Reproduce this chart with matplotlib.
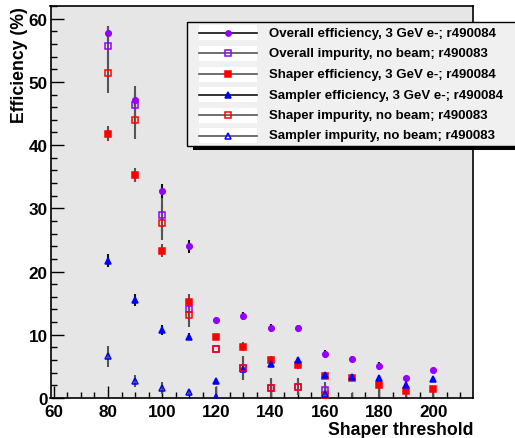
import matplotlib
matplotlib.use("Agg")
import matplotlib.pyplot as plt
from matplotlib.patches import Rectangle
from matplotlib.lines import Line2D
from matplotlib.ticker import MultipleLocator
import numpy as np

plt.rcParams["font.family"] = ["Liberation Sans", "DejaVu Sans"]
plt.rcParams["font.weight"] = "bold"

# ==========================================
# data
# ==========================================
thr = [80, 90, 100, 110, 120, 130, 140, 150, 160, 170, 180, 190, 200]
overall_eff = [57.7, 47.1, 32.8, 24.0, 12.3, 13.0, 11.1, 11.0, 7.0, 6.2, 5.1, 3.1, 4.4]
overall_eff_err = [1.2, 1.0, 1.1, 1.0, 0.5, 0.6, 0.6, 0.6, 0.6, 0.5, 0.6, 0.4, 0.4]
shaper_eff = [41.8, 35.2, 23.3, 15.2, 9.6, 8.1, 6.0, 5.2, 3.5, 3.1, 2.0, 1.1, 1.5]
shaper_eff_err = [1.2, 1.1, 1.0, 1.2, 0.4, 0.7, 0.6, 0.6, 0.5, 0.4, 0.4, 0.4, 0.4]
sampler_eff = [21.7, 15.5, 10.7, 9.7, 2.7, 4.6, 5.4, 6.0, 3.6, 3.3, 3.2, 2.0, 3.0]
sampler_eff_err = [1.0, 1.0, 0.8, 0.6, 0.4, 0.5, 0.5, 0.5, 0.5, 0.4, 0.4, 0.4, 0.4]

imp_thr = [80, 90, 100, 110, 120, 130, 140, 150, 160]
overall_imp = [55.6, 46.3, 28.9, 14.0, 7.8, 4.7, 1.6, 1.8, 1.3]
overall_imp_err = [3.2, 3.0, 2.8, 2.0, 0.0, 1.9, 1.5, 1.3, 1.2]

shaper_imp_thr = [80, 90, 100, 110, 120, 130, 140, 150, 160, 170, 180, 190, 200]
shaper_imp = [51.4, 44.0, 27.7, 13.2, 7.8, 4.7, 1.6, 1.8, 0.5, 0.0, 0.0, 0.0, 0.0]
shaper_imp_err = [3.1, 3.0, 2.7, 1.9, 0.0, 1.9, 1.5, 1.3, 0.8, 0.8, 2.1, 0.8, 1.2]

sampler_imp_thr = [80, 90, 100, 110, 120, 160]
sampler_imp = [6.6, 2.7, 1.6, 0.9, 0.2, 0.7]
sampler_imp_err = [1.7, 1.0, 0.9, 0.6, 1.5, 0.5]

labels = [
    "Overall efficiency, 3 GeV e-; r490084",
    "Overall impurity, no beam; r490083",
    "Shaper efficiency, 3 GeV e-; r490084",
    "Sampler efficiency, 3 GeV e-; r490084",
    "Shaper impurity, no beam; r490083",
    "Sampler impurity, no beam; r490083",
]

PURPLE = "#9400ff"
RED = "#ff0000"
BLUE = "#0000ff"

# (x, y, err, marker, color, filled, error/legend line colour)
series = [
    (thr, overall_eff, overall_eff_err, "o", PURPLE, True, "#111111"),
    (imp_thr, overall_imp, overall_imp_err, "s", PURPLE, False, "#555555"),
    (thr, shaper_eff, shaper_eff_err, "s", RED, True, "#555555"),
    (thr, sampler_eff, sampler_eff_err, "^", BLUE, True, "#111111"),
    (shaper_imp_thr, shaper_imp, shaper_imp_err, "s", RED, False, "#555555"),
    (sampler_imp_thr, sampler_imp, sampler_imp_err, "^", BLUE, False, "#555555"),
]

W, H = 515, 439
fig = plt.figure(figsize=(W / 100, H / 100), dpi=100)
fig.patch.set_facecolor("white")


def px(x, y):
    # pixel coords (top-left origin) -> figure fraction
    return x / W, 1 - y / H


L, R, T, B = 50.5, 473, 7, 399
ax = fig.add_axes([L / W, 1 - B / H, (R - L) / W, (B - T) / H])
ax.set_facecolor("#e6e6e6")

# error bars first, markers on top
for x, y, e, m, c, filled, lc in series:
    ax.errorbar(x, y, yerr=e, fmt="none", ecolor=lc, elinewidth=1.5,
                capsize=0, zorder=2)
for x, y, e, m, c, filled, lc in series:
    x = np.array(x)
    y = np.array(y)
    keep = y > 0
    ms = 4.6 if m == "^" else 4.0
    ax.plot(x[keep], y[keep], linestyle="none", marker=m, markersize=ms,
            markerfacecolor=c if filled else "none", markeredgecolor=c,
            markeredgewidth=1.1, zorder=3)

ax.set_xlim(58.8, 214.7)
ax.set_ylim(0, 62)
ax.xaxis.set_major_locator(MultipleLocator(20))
ax.xaxis.set_minor_locator(MultipleLocator(5))
ax.yaxis.set_major_locator(MultipleLocator(10))
ax.yaxis.set_minor_locator(MultipleLocator(2))
ax.tick_params(which="both", direction="in", top=False, right=False,
               labelsize=12.3, width=1.0)
ax.tick_params(which="major", length=9)
ax.tick_params(which="minor", length=4.5)
ax.tick_params(axis="y", pad=2)
ax.tick_params(axis="x", pad=4)
for lab in ax.get_xticklabels() + ax.get_yticklabels():
    lab.set_fontweight("bold")
for sp in ax.spines.values():
    sp.set_linewidth(1.2)

ax.set_xlabel("Shaper threshold", fontsize=12.7, fontweight="bold",
              loc="right", labelpad=2)
ax.set_ylabel("Efficiency (%)", fontsize=12.7, fontweight="bold",
              loc="top", labelpad=0.5)

# ==========================================
# ROOT style legend box with shadow
# ==========================================
x0, y0 = px(193, 151)
x1, y1 = px(520, 146.5)
fig.patches.append(Rectangle((x0, y0), x1 - x0, y1 - y0, transform=fig.transFigure,
                             facecolor="black", edgecolor="none", zorder=5))
x0, y0 = px(187, 147)
x1, y1 = px(520, 23)
fig.patches.append(Rectangle((x0, y0), x1 - x0, y1 - y0, transform=fig.transFigure,
                             facecolor="#f0f0f0", edgecolor="black", linewidth=1.0,
                             zorder=6))

row_y = [33.5, 54, 75, 95.5, 116, 136.5]
for (x, y, e, m, c, filled, lc), lab, ry in zip(series, labels, row_y):
    bx0, by0 = px(199, ry + 7.5)
    bx1, by1 = px(257, ry - 7.5)
    fig.patches.append(Rectangle((bx0, by0), bx1 - bx0, by1 - by0,
                                 transform=fig.transFigure, facecolor="white",
                                 edgecolor="none", zorder=7))
    lx0, ly = px(199, ry)
    lx1, _ = px(257, ry)
    fig.lines.append(Line2D([lx0, lx1], [ly, ly], transform=fig.transFigure,
                            color=lc, linewidth=1.2, zorder=8))
    mx, _ = px(228, ry)
    ms = 4.2 if m == "^" else 3.8
    fig.lines.append(Line2D([mx], [ly], transform=fig.transFigure, marker=m,
                            markersize=ms, markerfacecolor=c if filled else "none",
                            markeredgecolor=c, markeredgewidth=1.1, zorder=9))
    tx, _ = px(269, ry)
    fig.text(tx, ly, lab, fontsize=9.5, fontweight="bold", va="center",
             ha="left", zorder=10)

fig.savefig("out.png", dpi=100)
